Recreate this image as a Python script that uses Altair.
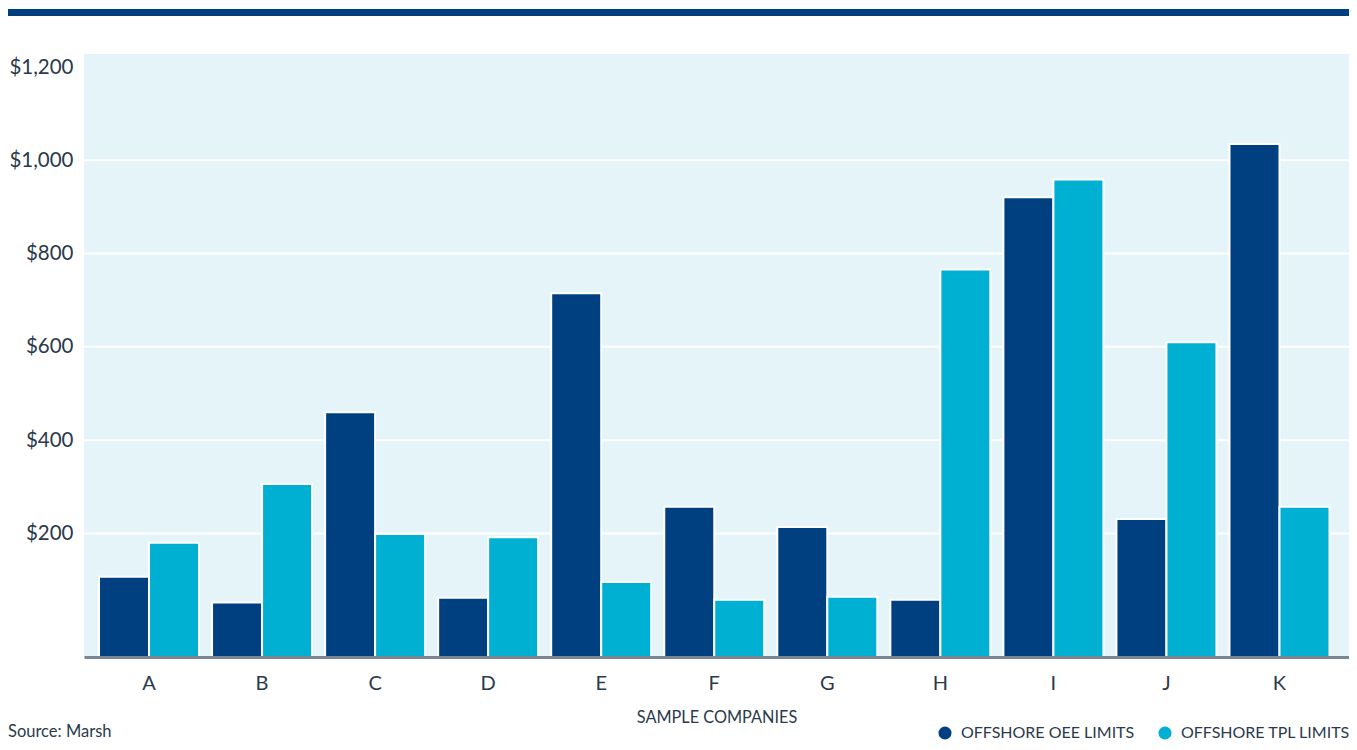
import altair as alt
import pandas as pd

companies = list("ABCDEFGHIJK")
oee_limits = [107, 52, 460, 62, 715, 257, 214, 58, 921, 231, 1035]
tpl_limits = [180, 306, 199, 192, 96, 58, 64, 766, 959, 610, 257]
series_names = ["OFFSHORE OEE LIMITS", "OFFSHORE TPL LIMITS"]
series_colors = ["#003f80", "#00b0d3"]
y_ticks = [200, 400, 600, 800, 1000, 1200]
grid_values = [200, 400, 600, 800, 1000]
y_domain = [-65, 1228]
source_text = ["Source: Marsh"]

rows = []
for c, o, t in zip(companies, oee_limits, tpl_limits):
    rows.append({"company": c, "series": series_names[0], "value": o})
    rows.append({"company": c, "series": series_names[1], "value": t})
df = pd.DataFrame(rows)

W, H = 1265, 603
FONT = "Lato"
TXT = "#2b3a4b"

x_scale = alt.Scale(paddingInner=0.1154, paddingOuter=0.1527, align=0.435)
y_scale = alt.Scale(domain=y_domain, nice=False, zero=False)

grid = alt.Chart(pd.DataFrame({"value": grid_values})).mark_rule(
    color="white", strokeWidth=2
).encode(
    y=alt.Y("value:Q", scale=y_scale, title=None,
            axis=alt.Axis(values=y_ticks, grid=False, ticks=False, domain=False,
                          labelExpr="'$' + format(datum.value, ',')",
                          labelFontSize=20.5, labelFont=FONT, labelColor=TXT,
                          labelPadding=11, title=None))
)

bars = alt.Chart(df).mark_bar(stroke="white", strokeWidth=2).encode(
    x=alt.X("company:N", scale=x_scale, sort=companies,
            axis=alt.Axis(title="SAMPLE COMPANIES", labelAngle=0, ticks=False, tickSize=0,
                          labelPadding=16, labelFontSize=20, labelFont=FONT, labelColor=TXT,
                          domainColor="#7b8794", domainWidth=3, grid=False, zindex=1,
                          titleFont=FONT, titleFontSize=16.3, titleFontWeight="normal",
                          titleColor=TXT, titlePadding=16)),
    xOffset=alt.XOffset("series:N", sort=series_names,
                        scale=alt.Scale(paddingInner=0, paddingOuter=0)),
    y=alt.Y("value:Q", scale=y_scale, title=None),
    y2=alt.datum(y_domain[0]),
    color=alt.Color("series:N",
                    scale=alt.Scale(domain=series_names, range=series_colors),
                    legend=alt.Legend(orient="none", legendX=853, legendY=671,
                                      direction="horizontal", title=None,
                                      symbolType="circle", symbolSize=170,
                                      symbolStrokeWidth=0, labelFont=FONT,
                                      labelFontSize=16, labelColor=TXT, labelLimit=400,
                                      labelOffset=8, columnPadding=22)),
)

top_bar = alt.Chart(pd.DataFrame({"a": [0]})).mark_rule(
    color="#003e7e", strokeWidth=7
).encode(x=alt.value(-76), x2=alt.value(1265), y=alt.value(-41.5))

source = alt.Chart(pd.DataFrame({"t": source_text})).mark_text(
    align="left", baseline="middle", font=FONT, fontSize=16.5, color=TXT
).encode(text="t:N", x=alt.value(-76), y=alt.value(678))

chart = alt.layer(grid, bars, top_bar, source).properties(
    width=W, height=H,
    autosize=alt.AutoSizeParams(type="none"),
    padding={"left": 76, "top": 46, "right": 0, "bottom": 85},
    background="white",
).configure_view(fill="#e4f4f8", strokeWidth=0)

chart.save("out.html", embed_options={"renderer": "svg", "actions": False})
